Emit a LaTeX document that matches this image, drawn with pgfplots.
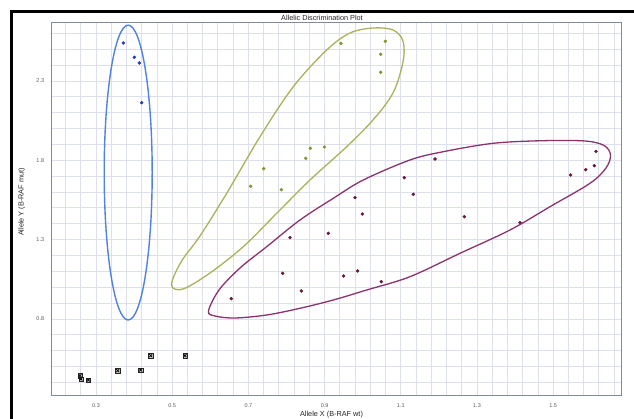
\documentclass[border=0pt]{standalone}
\usepackage{fontspec}
\setmainfont{Liberation Sans}
\usepackage{pgfplots}
\pgfplotsset{compat=1.18}
\definecolor{gridc}{RGB}{220,223,236}
\definecolor{axc}{RGB}{128,138,152}
\definecolor{bluept}{RGB}{35,55,200}
\definecolor{greenpt}{RGB}{130,150,40}
\definecolor{purplept}{RGB}{105,20,60}
\definecolor{blueell}{RGB}{80,130,230}
\definecolor{greenell}{RGB}{170,178,90}
\definecolor{purpleell}{RGB}{140,50,110}
\definecolor{ticklab}{RGB}{90,90,90}
\begin{document}
\begin{tikzpicture}
\useasboundingbox (0,0) rectangle (634pt,419pt);
\fill[white] (0,0) rectangle (634pt,419pt);
\begin{axis}[
  scale only axis, width=570pt, height=373.4pt,
  at={(51.7pt,23.3pt)}, anchor=south west,
  xmin=0.18373, xmax=1.67979, ymin=0.31664, ymax=2.66995,
  xtick={0.3,0.5,0.7,0.9,1.1,1.3,1.5},
  ytick={0.8,1.3,1.8,2.3},
  minor xtick={0.22,0.26,...,1.67},
  minor ytick={0.4,0.5,...,2.61},
  grid=both,
  major grid style={gridc, line width=0.9pt},
  minor grid style={gridc, line width=0.9pt},
  major tick length=0pt, minor tick length=0pt,
  axis line style={axc, line width=1.2pt},
  /pgf/number format/assume math mode=true,
  /pgf/number format/fixed,
  /pgf/number format/precision=1,
  xticklabel style={font=\fontsize{5.5}{6}\selectfont, text=ticklab, anchor=center, yshift=-10.3pt},
  yticklabel style={font=\fontsize{5.5}{6}\selectfont, text=ticklab, anchor=center, xshift=-11.4pt},
  title={Allelic Discrimination Plot},
  title style={at={(axis description cs:0.4742,1)}, anchor=base, yshift=-4.7pt, inner sep=0pt, font=\fontsize{7.3}{8}\selectfont, text=black!85},
  xlabel={Allele X (B-RAF wt)},
  xlabel style={at={(axis description cs:0.4909,0)}, anchor=base, yshift=-21.3pt, inner sep=0pt, font=\fontsize{7.3}{8}\selectfont, text=black!85},
  ylabel={Allele Y (B-RAF mut)},
  ylabel style={at={(axis description cs:-0.0526,0.5187)}, anchor=center, inner sep=0pt, font=\fontsize{7.3}{8}\selectfont, text=black!85},
]
% Allele Y homozygous (blue)
\addplot[only marks, mark=*, mark size=1.5pt, color=bluept] coordinates {
 (0.3717,2.5395) (0.4005,2.4494) (0.4136,2.4134) (0.4199,2.1632)
};
% Heterozygous (green)
\addplot[only marks, mark=*, mark size=1.5pt, color=greenpt] coordinates {
 (0.9430,2.5376) (1.0593,2.5502) (1.0472,2.4683) (1.0472,2.3548)
 (0.8625,1.8758) (0.8992,1.8840) (0.8504,1.8128) (0.7402,1.7473)
 (0.7060,1.6364) (0.7864,1.6149)
};
% Allele X homozygous (purple)
\addplot[only marks, mark=*, mark size=1.5pt, color=purplept] coordinates {
 (1.1092,1.6906) (0.9798,1.5645) (0.9990,1.4618) (0.8092,1.3124)
 (0.9097,1.3401) (0.7900,1.0881) (0.9501,1.0710) (0.9869,1.1026)
 (1.0488,1.0351) (0.8388,0.9765) (0.6551,0.9280) (1.1898,1.8084)
 (1.1328,1.5859) (1.2667,1.4448) (1.4129,1.4069) (1.5459,1.7076)
 (1.5853,1.7410) (1.6079,1.7662) (1.6123,1.8569)
};
% No template controls (black)
\addplot[only marks, mark=square*, mark size=2.1pt, mark options={fill=gray!45, draw=black!85, line width=0.45pt}] coordinates {
 (0.2580,0.4430) (0.2606,0.4219) (0.2798,0.4156) (0.3570,0.4742)
 (0.4173,0.4786) (0.4436,0.5687) (0.5336,0.5687)
};
\addplot[only marks, mark=x, mark size=2.1pt, mark options={draw=black, line width=0.7pt}] coordinates {
 (0.2580,0.4430) (0.2606,0.4219) (0.2798,0.4156) (0.3570,0.4742)
 (0.4173,0.4786) (0.4436,0.5687) (0.5336,0.5687)
};
\end{axis}
% cluster outlines, drawn in image pixel coordinates
\begin{scope}[shift={(0,419pt)}, x=1pt, y=-1pt]
\draw[blueell, line width=1.4pt] (128.2,172.6) ellipse [x radius=24, y radius=147.4];
\draw[greenell, line width=1.3pt] plot[smooth cycle, tension=0.55] coordinates {
 (171.5,285) (181,262) (200,236) (226.7,193.3) (260,136.7) (293.3,86.7)
 (326.7,50) (350,33) (373.3,28) (393,30) (403,41) (403,62) (393,93)
 (373,120) (346.7,146.7) (310,180) (276.7,213.3) (243.3,246.7) (210,273) (183,289)
};
\draw[purpleell, line width=1.3pt] plot[smooth cycle, tension=0.55] coordinates {
 (208.5,311) (219,290) (240,268) (266.7,246.7) (300,220) (333.3,198.3)
 (363.3,180) (410,160) (443.3,151.7) (493.3,143.3) (543.3,140.7) (585,141)
 (604,145.5) (610.5,155) (606,168) (590,183.3) (550,206.7) (510,230)
 (460,253.3) (410,276.7) (366.7,290) (333.3,300) (300,308.3) (266.7,315)
 (235,318) (215,316)
};
\end{scope}
\draw[black, line width=2.7pt] (11.3pt,-5pt) -- (11.3pt,407.7pt) -- (640pt,407.7pt);
\end{tikzpicture}
\end{document}
